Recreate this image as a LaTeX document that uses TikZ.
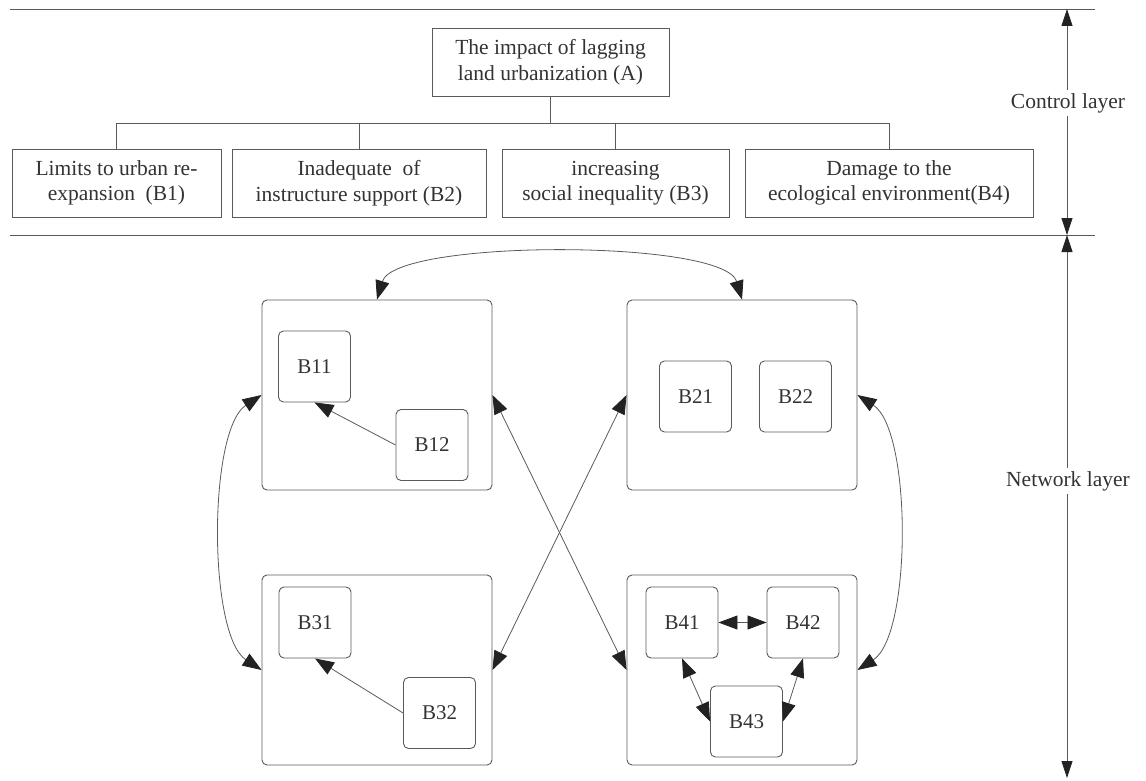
\documentclass[tikz,border=0pt]{standalone}
\usepackage{fontspec}
\setmainfont{Liberation Serif}
\usetikzlibrary{arrows.meta}
\definecolor{txt}{HTML}{333333}
\definecolor{ln}{HTML}{5A5A5A}
\definecolor{tip}{HTML}{222222}
\tikzset{
  lbl/.style={text=txt,font=\fontsize{21.5}{25.5}\selectfont,align=center,inner sep=0pt},
  topbox/.style={lbl,draw=ln,line width=0.9pt,minimum height=68pt},
  grp/.style={draw=ln,line width=0.9pt,rounded corners=5pt,minimum width=230pt,minimum height=190pt,inner sep=0pt},
  sub/.style={lbl,draw=ln,line width=0.9pt,rounded corners=5pt,minimum width=72pt,minimum height=71pt,font=\fontsize{21}{25}\selectfont},
  conn/.style={draw=ln,line width=0.8pt},
  tipA/.tip={Triangle[length=19pt,width=14pt,fill=tip,color=tip]},
  tipB/.tip={Triangle[length=17pt,width=11pt,fill=tip,color=tip]},
  arr/.style={conn,tipA-tipA},
  arrone/.style={conn,-tipA},
  dimarr/.style={conn,tipB-tipB}
}
\begin{document}
\begin{tikzpicture}[x=1pt,y=-1pt]
\useasboundingbox (0,0) rectangle (1146,781);
% layer lines
\coordinate (l1a) at (10,9); \coordinate (l1b) at (1095,9);
\coordinate (l2a) at (10,235); \coordinate (l2b) at (1095,235);
\draw[conn] (l1a) -- (l1b);
\draw[conn] (l2a) -- (l2b);
% top hierarchy
\node[topbox,minimum width=237pt] (A) at (550.5,62) {The impact of lagging\\land urbanization (A)};
\node[topbox,minimum width=209pt] (b1) at (116.5,183) {Limits to urban re-\\expansion\ \ (B1)};
\node[topbox,minimum width=254pt] (b2) at (359,183) {Inadequate\ \ of\\instructure support (B2)};
\node[topbox,minimum width=227pt] (b3) at (615.5,183) {increasing\\social inequality (B3)};
\node[topbox,minimum width=288pt] (b4) at (889,183) {Damage to the\\ecological environment(B4)};
\coordinate (j) at (550.5,123);
\draw[conn] (A.south) -- (j);
\draw[conn] (b1.north) -- (b1.north |- j) -- (b4.north |- j) -- (b4.north);
\draw[conn] (b2.north) -- (b2.north |- j);
\draw[conn] (b3.north) -- (b3.north |- j);
% network groups
\node[grp] (g1) at (377,395) {};
\node[grp] (g2) at (742,395) {};
\node[grp] (g3) at (377,670) {};
\node[grp] (g4) at (742,670) {};
% sub nodes
\node[sub] (b11) at (314.5,366.5) {B11};
\node[sub] (b12) at (432,445) {B12};
\node[sub] (b21) at (695.5,396.5) {B21};
\node[sub] (b22) at (795.5,396.5) {B22};
\node[sub] (b31) at (315,622.5) {B31};
\node[sub] (b32) at (439.5,713) {B32};
\node[sub] (b41) at (682,622.5) {B41};
\node[sub] (b42) at (803,622.5) {B42};
\node[sub] (b43) at (746.5,721.5) {B43};
% inner arrows
\draw[arrone] (b12.west) -- (b11.south);
\draw[arrone] (b32.west) -- (b31.south);
\draw[arr] (b41.east) -- (b42.west);
\draw[arr] (b41.south) -- (b43.west);
\draw[arr] (b42.south) -- (b43.east);
% group connections
\draw[arr] (g1.north) .. controls (395,239) and (724,239) .. (g2.north);
\draw[arr] (g1.west) .. controls (208,430) and (208,635) .. (g3.west);
\draw[arr] (g2.east) .. controls (912,430) and (912,635) .. (g4.east);
\draw[arr] (g1.east) -- (g4.west);
\draw[arr] (g2.west) -- (g3.east);
% layer dimension arrows
\coordinate (dt) at (1067,9);
\coordinate (dm) at (1067,235);
\coordinate (db) at (1067,778);
\draw[dimarr] (dt) -- (dm);
\draw[dimarr] (dm) -- (db);
\node[lbl,fill=white,inner sep=3pt] (cl) at (1068,103) {Control layer};
\node[lbl,fill=white,inner sep=3pt] (nl) at (1068,481) {Network layer};
\end{tikzpicture}
\end{document}
